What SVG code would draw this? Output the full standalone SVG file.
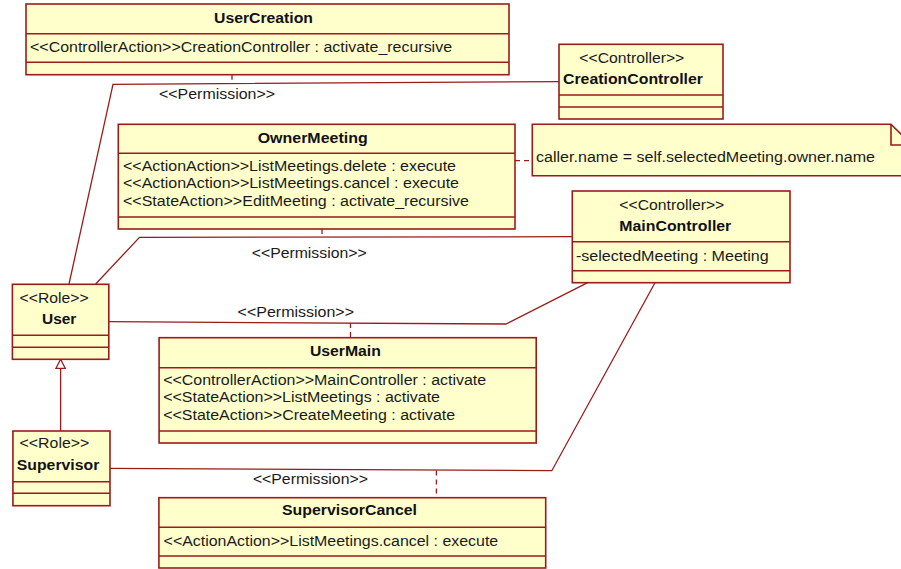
<svg xmlns="http://www.w3.org/2000/svg" width="901" height="569" viewBox="0 0 901 569">
<style>
.box{fill:#FFFFCC;stroke:#9B1B1B;stroke-width:1.6}
.div{stroke:#9B1B1B;stroke-width:1.6;fill:none}
.t{font-family:"Liberation Sans",Arial,sans-serif;font-size:14px;fill:#1a1a1a}
.b{font-family:"Liberation Sans",Arial,sans-serif;font-size:14.5px;font-weight:bold;fill:#111}
.c{stroke:#9B1B1B;stroke-width:1.3;fill:none}
.d{stroke:#9B1B1B;stroke-width:1.3;fill:none;stroke-dasharray:5,4}
</style>
<rect width="901" height="569" fill="#fff"/>
<g id="connectors">
<polyline class="c" points="69,284 113,84.3 559,81.6"/>
<line class="d" x1="232" y1="74.7" x2="232" y2="82.9"/>
<polyline class="c" points="95.7,284 139.5,237.3 572.3,236.7"/>
<line class="d" x1="322" y1="229" x2="322" y2="237"/>
<polyline class="c" points="108.8,321.7 506,324 587.7,282.7"/>
<line class="d" x1="350.5" y1="323" x2="350.5" y2="337.7"/>
<polyline class="c" points="110,468.3 551.8,470.7 655,282.7"/>
<line class="d" x1="436.4" y1="470.5" x2="436.4" y2="497.7"/>
<line class="d" x1="515" y1="160.7" x2="532.3" y2="160.7"/>
<line class="c" x1="60.6" y1="431" x2="60.6" y2="368.3"/>
<polygon points="60.6,359.3 56,368.3 65.2,368.3" fill="#fff" stroke="#9B1B1B" stroke-width="1.3"/>
<text class="t" x="159" y="98.5" textLength="116" lengthAdjust="spacingAndGlyphs">&lt;&lt;Permission&gt;&gt;</text>
<text class="t" x="251.7" y="258.3" textLength="115" lengthAdjust="spacingAndGlyphs">&lt;&lt;Permission&gt;&gt;</text>
<text class="t" x="237.6" y="316.7" textLength="116.4" lengthAdjust="spacingAndGlyphs">&lt;&lt;Permission&gt;&gt;</text>
<text class="t" x="252.9" y="484" textLength="115" lengthAdjust="spacingAndGlyphs">&lt;&lt;Permission&gt;&gt;</text>
</g>
<g id="UserCreation">
<rect class="box" x="26" y="4" width="483" height="70.7"/>
<path class="div" d="M26,33.7H509M26,62.3H509"/>
<text class="b" x="214" y="23.3" textLength="99" lengthAdjust="spacingAndGlyphs">UserCreation</text>
<text class="t" x="30" y="51.5" textLength="422" lengthAdjust="spacingAndGlyphs">&lt;&lt;ControllerAction&gt;&gt;CreationController : activate_recursive</text>
</g>
<g id="CreationController">
<rect class="box" x="559" y="44.3" width="164" height="74.7"/>
<path class="div" d="M559,95H723M559,107H723"/>
<text class="t" x="579.3" y="63.3" textLength="105" lengthAdjust="spacingAndGlyphs">&lt;&lt;Controller&gt;&gt;</text>
<text class="b" x="563" y="84" textLength="140" lengthAdjust="spacingAndGlyphs">CreationController</text>
</g>
<g id="Note">
<path class="box" d="M532.3,124.3H891L912,145V175.7H532.3Z"/>
<path class="div" d="M891,124.3V145H912"/>
<text class="t" x="536" y="161.7" textLength="339" lengthAdjust="spacingAndGlyphs">caller.name = self.selectedMeeting.owner.name</text>
</g>
<g id="OwnerMeeting">
<rect class="box" x="118.3" y="124.3" width="396.7" height="104.7"/>
<path class="div" d="M118.3,153.3H515M118.3,217H515"/>
<text class="b" x="257.7" y="143.3" textLength="110" lengthAdjust="spacingAndGlyphs">OwnerMeeting</text>
<text class="t" x="123" y="171" textLength="333" lengthAdjust="spacingAndGlyphs">&lt;&lt;ActionAction&gt;&gt;ListMeetings.delete : execute</text>
<text class="t" x="123" y="188.3" textLength="336" lengthAdjust="spacingAndGlyphs">&lt;&lt;ActionAction&gt;&gt;ListMeetings.cancel : execute</text>
<text class="t" x="123" y="205.5" textLength="346" lengthAdjust="spacingAndGlyphs">&lt;&lt;StateAction&gt;&gt;EditMeeting : activate_recursive</text>
</g>
<g id="MainController">
<rect class="box" x="572.3" y="191" width="217.7" height="91.7"/>
<path class="div" d="M572.3,241.7H790M572.3,270.7H790"/>
<text class="t" x="619.3" y="210" textLength="105" lengthAdjust="spacingAndGlyphs">&lt;&lt;Controller&gt;&gt;</text>
<text class="b" x="619.3" y="230.7" textLength="112" lengthAdjust="spacingAndGlyphs">MainController</text>
<text class="t" x="576" y="261" textLength="192.7" lengthAdjust="spacingAndGlyphs">-selectedMeeting : Meeting</text>
</g>
<g id="User">
<rect class="box" x="12.4" y="284.3" width="96.4" height="75"/>
<path class="div" d="M12.4,335.3H108.8M12.4,347.3H108.8"/>
<text class="t" x="19.6" y="303.3" textLength="69" lengthAdjust="spacingAndGlyphs">&lt;&lt;Role&gt;&gt;</text>
<text class="b" x="42" y="324" textLength="34.4" lengthAdjust="spacingAndGlyphs">User</text>
</g>
<g id="UserMain">
<rect class="box" x="159.1" y="337.7" width="377.1" height="105.3"/>
<path class="div" d="M159.1,367.7H536.2M159.1,431H536.2"/>
<text class="b" x="309.9" y="356" textLength="71" lengthAdjust="spacingAndGlyphs">UserMain</text>
<text class="t" x="163.2" y="385" textLength="323" lengthAdjust="spacingAndGlyphs">&lt;&lt;ControllerAction&gt;&gt;MainController : activate</text>
<text class="t" x="163.2" y="402.3" textLength="276.8" lengthAdjust="spacingAndGlyphs">&lt;&lt;StateAction&gt;&gt;ListMeetings : activate</text>
<text class="t" x="163.2" y="419.7" textLength="292" lengthAdjust="spacingAndGlyphs">&lt;&lt;StateAction&gt;&gt;CreateMeeting : activate</text>
</g>
<g id="Supervisor">
<rect class="box" x="12.9" y="431" width="97.1" height="74.7"/>
<path class="div" d="M12.9,481.7H110M12.9,493.3H110"/>
<text class="t" x="19.6" y="448.3" textLength="69.7" lengthAdjust="spacingAndGlyphs">&lt;&lt;Role&gt;&gt;</text>
<text class="b" x="16.8" y="470" textLength="82.5" lengthAdjust="spacingAndGlyphs">Supervisor</text>
</g>
<g id="SupervisorCancel">
<rect class="box" x="158.9" y="497.7" width="386.8" height="70.3"/>
<path class="div" d="M158.9,527.3H545.7M158.9,556H545.7"/>
<text class="b" x="282" y="515" textLength="135" lengthAdjust="spacingAndGlyphs">SupervisorCancel</text>
<text class="t" x="163.6" y="546" textLength="334.6" lengthAdjust="spacingAndGlyphs">&lt;&lt;ActionAction&gt;&gt;ListMeetings.cancel : execute</text>
</g>
</svg>
